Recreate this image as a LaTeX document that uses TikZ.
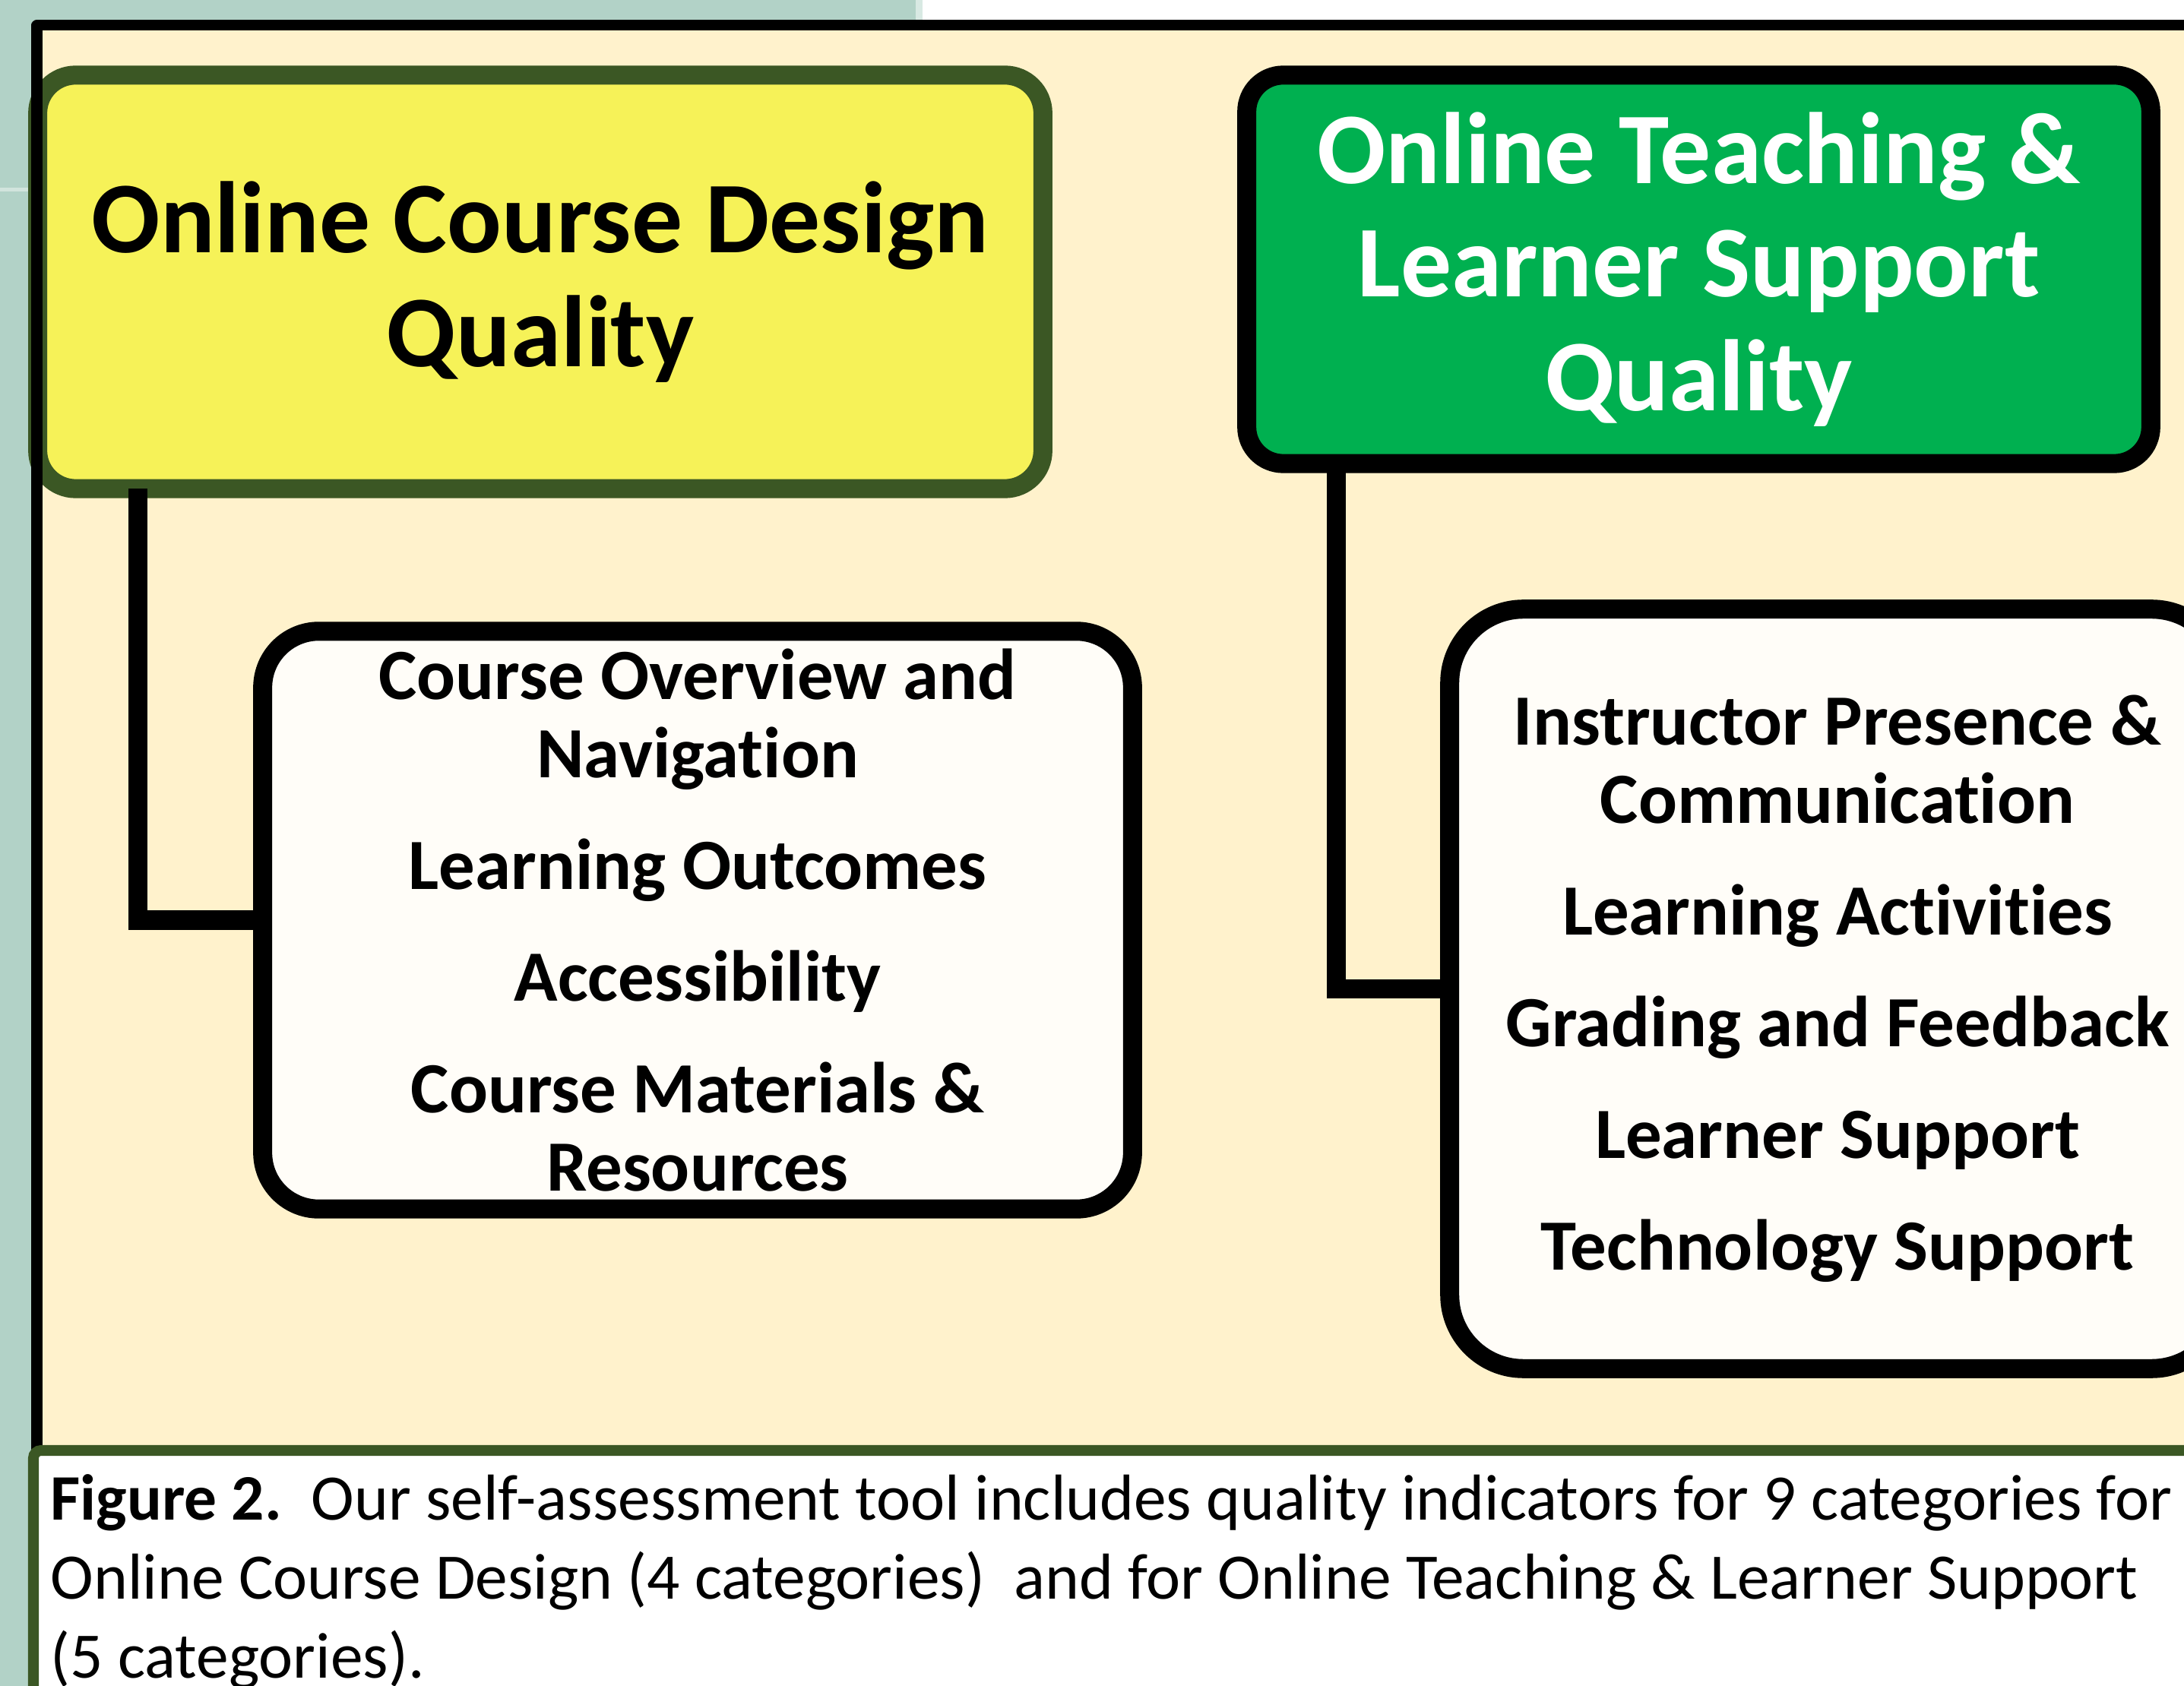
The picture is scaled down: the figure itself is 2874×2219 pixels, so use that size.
\documentclass[tikz,border=0pt]{standalone}
\usepackage{fontspec}
\setmainfont{Carlito}[Ligatures={NoCommon}]

\definecolor{slidebg}{RGB}{178,210,199}
\definecolor{cream}{RGB}{255,242,204}
\definecolor{titleyellow}{RGB}{246,242,88}
\definecolor{olive}{RGB}{59,87,36}
\definecolor{teachgreen}{RGB}{0,176,80}
\definecolor{paper}{RGB}{255,253,248}

\begin{document}
\begin{tikzpicture}[x=0.01cm,y=-0.01cm,
    titlebox/.style={line width=0.25cm,outer sep=0pt,inner sep=0pt,align=center,
        font=\bfseries\fontsize{38}{42.5}\selectfont},
    listbox/.style={draw=black,fill=paper,line width=0.25cm,outer sep=0pt,inner sep=0pt,
        align=center,font=\bfseries\fontsize{27}{29.3}\selectfont},
    link/.style={line width=0.25cm}
]
\useasboundingbox (0,0) rectangle (2874,2219);
\clip (0,0) rectangle (2874,2219);

% slide background and panel
\fill[slidebg] (0,0) rectangle (2874,2219);
\fill[white] (1212,0) rectangle (2874,26);
\fill[slidebg!50!white] (1205,0) rectangle (1214,26);
\fill[slidebg!60!white] (0,247) rectangle (42,252);
\fill[cream] (48,33) rectangle (2874,1909);

% the two headings
\node[titlebox,draw=olive,fill=titleyellow,rounded corners=0.5cm,
      minimum width=13.22cm,minimum height=5.44cm] (design) at (711,371)
      {Online Course Design\\Quality};
\node[titlebox,draw=black,fill=teachgreen,text=white,rounded corners=0.48cm,
      minimum width=11.89cm,minimum height=5.11cm] (teaching) at (2235.5,354.5)
      {Online Teaching \&\\Learner Support\\Quality};

% category lists
\node[listbox,rounded corners=0.74cm,minimum width=11.44cm,minimum height=7.6cm]
      (designlist) at (918,1211)
      {Course Overview and\\Navigation\\[0.44cm]Learning Outcomes\\[0.44cm]Accessibility\\[0.44cm]Course Materials \&\\Resources};
\node[listbox,rounded corners=0.97cm,minimum width=10.2cm,minimum height=9.99cm]
      (teachlist) at (2418,1301.5)
      {Instructor Presence \&\\Communication\\[0.44cm]Learning Activities\\[0.44cm]Grading and Feedback\\[0.44cm]Learner Support\\[0.44cm]Technology Support};

\draw[link] ([xshift=1.32cm]design.south west) |- (designlist.west);
\draw[link] ([xshift=1.18cm]teaching.south west) |- (teachlist.west);

% frame
\draw[line width=0.14cm,line join=round] (48.5,1909) -- (48.5,33.5) -- (2900,33.5);

% caption
\draw[olive,fill=white,line width=0.14cm,rounded corners=0.1cm] (44,1909) rectangle (2950,2300);
\node[anchor=north west,inner sep=0pt,align=left,font=\fontsize{24.3}{29.6}\selectfont]
      (caption) at (66,1940)
      {\textbf{Figure 2.}\ \ Our self-assessment tool includes quality indicators for 9 categories for\\
       Online Course Design (4 categories)\ \ and for Online Teaching \& Learner Support\\
       (5 categories).};
\end{tikzpicture}
\end{document}
